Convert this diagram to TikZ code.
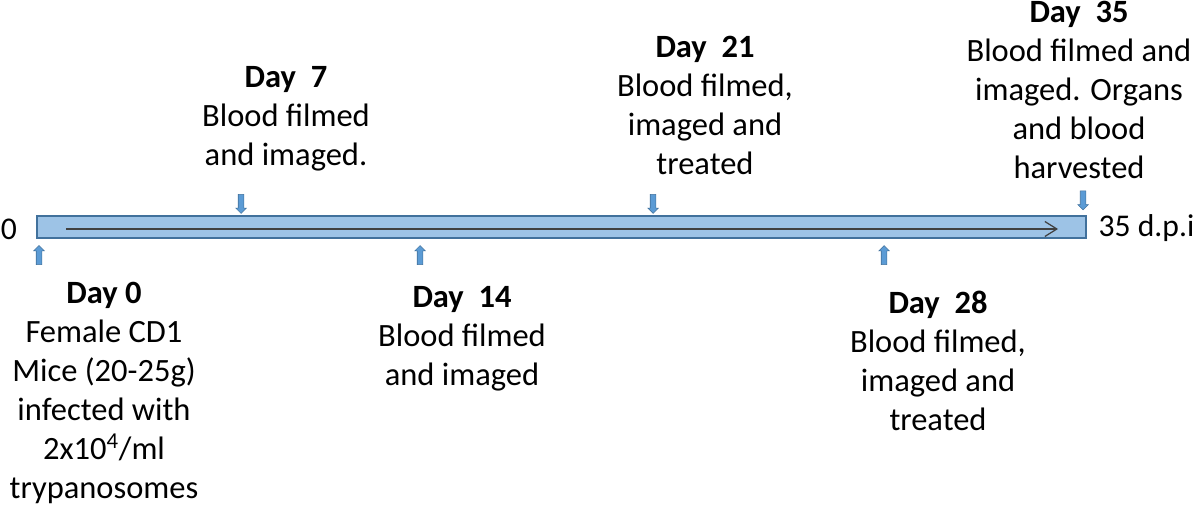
\documentclass[tikz,border=0pt]{standalone}
\usepackage{fontspec}
\setmainfont{Carlito}
\usetikzlibrary{shapes.arrows,arrows.meta}
\definecolor{barfill}{HTML}{9DC3E6}
\definecolor{barline}{HTML}{41719C}
\definecolor{markblue}{HTML}{5B9BD5}
\definecolor{flowline}{HTML}{404040}

\begin{document}
\begin{tikzpicture}
[x=0.02cm, y=-0.02cm, line width=0.75pt,
bar/.style={rectangle, draw=barline, fill=barfill, line width=1.1pt, inner sep=0pt, minimum width=20.98cm, minimum height=0.44cm},
flow/.style={draw=flowline, line width=0.7pt, -{Straight Barb[length=2.4mm, width=3mm]}},
marker/.style={single arrow, draw=barline, fill=markblue, line width=0.3pt, inner xsep=0pt, inner ysep=0.05cm, minimum height=0.38cm, single arrow head extend=0.05cm},
uparrow/.style={marker, rotate=90},
downarrow/.style={marker, rotate=-90},
daytext/.style={align=center, anchor=north, inner sep=0pt, font=\fontsize{18.5}{22.2}\selectfont},
axistext/.style={inner sep=0pt, font=\fontsize{18}{22}\selectfont}]

\useasboundingbox (0,0) rectangle (1200,506);

\node[bar] (bar) at (561.5,227) {};
\coordinate (start) at (66,229);
\coordinate (stop) at (1058,229);
\draw[flow] (start) -- (stop);

\node[axistext, anchor=base] (zero) at (9,240) {0};
\node[axistext, anchor=base west] (end) at (1098,237) {35 d.p.i};

\node[uparrow] (up0) at (39,256.5) {};
\node[uparrow] (up14) at (420,256.5) {};
\node[uparrow] (up28) at (884,256.5) {};
\node[downarrow] (dn7) at (241,202.5) {};
\node[downarrow] (dn21) at (653,202.5) {};
\node[downarrow] (dn35) at (1083,199) {};

\node[daytext] (d0) at (104,282) {\textbf{Day 0}\\Female CD1\\Mice (20-25g)\\infected with\\2x10\textsuperscript{4}/ml\\trypanosomes};
\node[daytext] (d7) at (286,66) {\textbf{Day\ \ 7}\\Blood filmed\\and imaged.};
\node[daytext] (d14) at (462,286) {\textbf{Day\ \ 14}\\Blood filmed\\and imaged};
\node[daytext] (d21) at (705,36) {\textbf{Day\ \ 21}\\Blood filmed,\\imaged and\\treated};
\node[daytext] (d28) at (938,290) {\textbf{Day\ \ 28}\\Blood filmed,\\imaged and\\treated};
\node[daytext] (d35) at (1079,1) {\textbf{Day\ \ 35}\\Blood filmed and\\imaged. Organs\\and blood\\harvested};

\end{tikzpicture}
\end{document}
